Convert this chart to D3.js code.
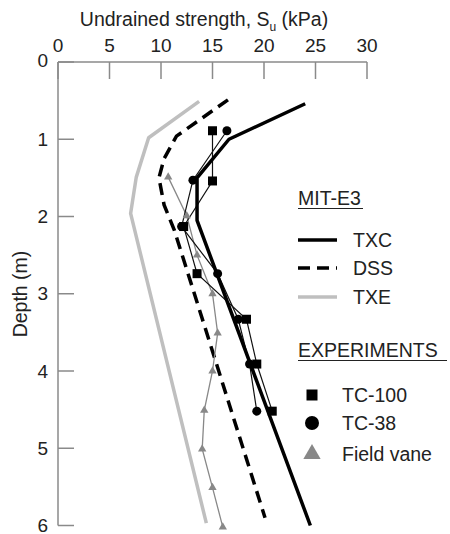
<!DOCTYPE html>
<html>
<head>
<meta charset="utf-8">
<script src="https://cdn.jsdelivr.net/npm/d3@7"></script>
<style>
  body { margin: 0; background: #fff; }
  text { font-family: "Liberation Sans", Arial, sans-serif; fill: #222; }
</style>
</head>
<body>
<svg width="450" height="534"></svg>
<script>
// MIT-E3 model predictions: [strength kPa, depth m]
const txc = [[24.0, 0.54], [16.6, 1.0], [13.5, 1.5], [13.5, 2.05], [24.5, 6.0]];
const dss = [[16.5, 0.49], [11.5, 0.96], [10.3, 1.25], [9.8, 1.5], [10.3, 1.85], [11.3, 2.18], [20.1, 5.9]];
const txe = [[13.7, 0.51], [8.8, 0.98], [7.6, 1.49], [7.05, 1.96], [14.4, 5.97]];

// experiments
const tc100 = [[15.0, 0.89], [15.0, 1.54], [12.2, 2.13], [13.5, 2.74], [18.3, 3.33], [19.3, 3.91], [20.8, 4.52]];
const tc38 = [[16.4, 0.89], [13.1, 1.53], [12.0, 2.13], [15.5, 2.74], [17.5, 3.33], [18.6, 3.91], [19.3, 4.52]];
const vane = [[10.7, 1.49], [12.5, 1.99], [13.5, 2.5], [15.0, 3.0], [15.5, 3.51], [15.0, 4.0], [14.2, 4.51], [14.0, 5.01], [15.0, 5.51], [16.0, 6.02]];

const xTicks = [0, 5, 10, 15, 20, 25, 30];
const yTicks = [0, 1, 2, 3, 4, 5, 6];

var svg = d3.select("svg");

var x = d3.scaleLinear().domain([0, 30]).range([58, 367]);
var y = d3.scaleLinear().domain([0, 6]).range([62, 525.5]);

var axisColor = "#8a8a8a";

// top axis
var gx = svg.append("g").attr("transform", "translate(0," + y(0) + ")");
gx.append("line")
  .attr("x1", x(0)).attr("x2", x(30))
  .attr("stroke", axisColor).attr("stroke-width", 1.5);
gx.selectAll(".tk")
  .data(xTicks)
  .enter()
  .append("line")
  .attr("x1", d => x(d)).attr("x2", d => x(d))
  .attr("y1", 0).attr("y2", 17)
  .attr("stroke", axisColor).attr("stroke-width", 1.5);
gx.selectAll(".lb")
  .data(xTicks)
  .enter()
  .append("text")
  .attr("x", d => x(d))
  .attr("y", -10)
  .attr("text-anchor", "middle")
  .style("font-size", "19px")
  .text(d => d);

// left axis
var gy = svg.append("g").attr("transform", "translate(" + x(0) + ",0)");
gy.append("line")
  .attr("y1", y(0)).attr("y2", y(6))
  .attr("stroke", axisColor).attr("stroke-width", 1.5);
gy.selectAll(".tk")
  .data(yTicks)
  .enter()
  .append("line")
  .attr("y1", d => y(d)).attr("y2", d => y(d))
  .attr("x1", 0).attr("x2", 16)
  .attr("stroke", axisColor).attr("stroke-width", 1.5);
gy.selectAll(".lb")
  .data(yTicks)
  .enter()
  .append("text")
  .attr("x", -10)
  .attr("y", d => y(d) - (d === 0 ? 2 : 0))
  .attr("dy", "0.35em")
  .attr("text-anchor", "end")
  .style("font-size", "19px")
  .text(d => d);

// axis titles
var title = svg.append("text")
  .attr("x", 204)
  .attr("y", 26)
  .attr("text-anchor", "middle")
  .style("font-size", "19.5px");
title.append("tspan").text("Undrained strength, S");
title.append("tspan").attr("dy", 5).style("font-size", "12px").text("u");
title.append("tspan").attr("dy", -5).text(" (kPa)");

svg.append("text")
  .attr("transform", "translate(27,294) rotate(-90)")
  .attr("text-anchor", "middle")
  .style("font-size", "19.5px")
  .text("Depth (m)");

var line = d3.line().x(d => x(d[0])).y(d => y(d[1]));

// model curves
svg.append("path").datum(txe)
  .attr("d", line).attr("fill", "none")
  .attr("stroke", "#bfbfbf").attr("stroke-width", 3.5)
  .attr("stroke-linejoin", "round");
svg.append("path").datum(dss)
  .attr("d", line).attr("fill", "none")
  .attr("stroke", "#000").attr("stroke-width", 3.5)
  .attr("stroke-dasharray", "12,7");

// experiment lines
svg.append("path").datum(vane)
  .attr("d", line).attr("fill", "none")
  .attr("stroke", "#888").attr("stroke-width", 1.3);
svg.append("path").datum(tc100)
  .attr("d", line).attr("fill", "none")
  .attr("stroke", "#111").attr("stroke-width", 1.2);
svg.append("path").datum(tc38)
  .attr("d", line).attr("fill", "none")
  .attr("stroke", "#111").attr("stroke-width", 1.2);

svg.append("path").datum(txc)
  .attr("d", line).attr("fill", "none")
  .attr("stroke", "#000").attr("stroke-width", 3.5)
  .attr("stroke-linejoin", "round");

// markers
svg.selectAll(".vane")
  .data(vane)
  .enter()
  .append("path")
  .attr("d", d3.symbol().type(d3.symbolTriangle).size(30))
  .attr("transform", d => "translate(" + x(d[0]) + "," + y(d[1]) + ")")
  .attr("fill", "#888");
svg.selectAll(".tc100")
  .data(tc100)
  .enter()
  .append("rect")
  .attr("x", d => x(d[0]) - 4.5).attr("y", d => y(d[1]) - 4.5)
  .attr("width", 9).attr("height", 9)
  .attr("fill", "#000");
svg.selectAll(".tc38")
  .data(tc38)
  .enter()
  .append("circle")
  .attr("cx", d => x(d[0])).attr("cy", d => y(d[1]))
  .attr("r", 4.5)
  .attr("fill", "#000");

// legend
var lg = svg.append("g");
lg.append("text").attr("x", 298).attr("y", 205).style("font-size", "19.5px").text("MIT-E3");
lg.append("line").attr("x1", 298).attr("x2", 363).attr("y1", 208.5).attr("y2", 208.5)
  .attr("stroke", "#222").attr("stroke-width", 1.2);

const modelKeys = [
  { name: "TXC", color: "#000", dash: null, yy: 240 },
  { name: "DSS", color: "#000", dash: "12,7", yy: 268 },
  { name: "TXE", color: "#bfbfbf", dash: null, yy: 297 }
];
modelKeys.forEach(function(k) {
  lg.append("line")
    .attr("x1", 298).attr("x2", 337)
    .attr("y1", k.yy).attr("y2", k.yy)
    .attr("stroke", k.color).attr("stroke-width", 3.5)
    .attr("stroke-dasharray", k.dash);
  lg.append("text").attr("x", 353).attr("y", k.yy).attr("dy", "0.35em")
    .style("font-size", "19.5px").text(k.name);
});

lg.append("text").attr("x", 298).attr("y", 357).style("font-size", "19.5px").text("EXPERIMENTS");
lg.append("line").attr("x1", 298).attr("x2", 447).attr("y1", 360.5).attr("y2", 360.5)
  .attr("stroke", "#222").attr("stroke-width", 1.2);

lg.append("rect").attr("x", 306.5).attr("y", 389.5).attr("width", 11).attr("height", 11).attr("fill", "#000");
lg.append("circle").attr("cx", 312).attr("cy", 423).attr("r", 7).attr("fill", "#000");
lg.append("path")
  .attr("d", d3.symbol().type(d3.symbolTriangle).size(130))
  .attr("transform", "translate(312,454)")
  .attr("fill", "#888");

const expNames = ["TC-100", "TC-38", "Field vane"];
const expY = [395, 423, 454];
lg.selectAll(".en")
  .data(expNames)
  .enter()
  .append("text")
  .attr("x", 342)
  .attr("y", (d, i) => expY[i])
  .attr("dy", "0.35em")
  .style("font-size", "19.5px")
  .text(d => d);
</script>
</body>
</html>
